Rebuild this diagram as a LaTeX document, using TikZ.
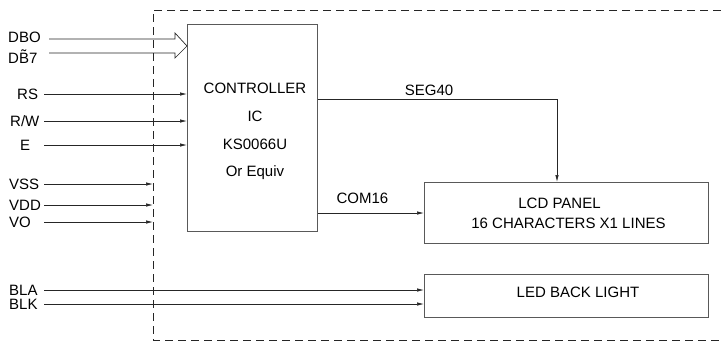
\documentclass[tikz,border=0pt]{standalone}
\usepackage{fontspec}
\setmainfont{Liberation Sans}
\usetikzlibrary{arrows.meta, positioning, calc}

\tikzset{
    sig/.style={draw=black!85, line width=0.7pt, -{Latex[length=7pt, width=3.5pt]}},
    blk/.style={draw=black!65, line width=1pt, inner sep=0pt},
    lbl/.style={inner sep=0pt, anchor=base west},
}

\begin{document}
\begin{tikzpicture}[x=1pt, y=-1pt, font=\fontsize{15}{18}\selectfont]
    \useasboundingbox (0,0) rectangle (721,343);
    % module border, open to the right
    \draw[black!85, line width=0.7pt, dash pattern=on 8pt off 5pt]
        (721,10) -- (153,10) -- (153,340) -- (721,340);
    \coordinate (edge) at (153,10);

    % blocks
    \node[blk, minimum width=130pt, minimum height=207pt, anchor=north west] (ctrl) at (187,24) {};
    \node[blk, minimum width=284pt, minimum height=61pt, anchor=north west] (lcd) at (424,182) {};
    \node[blk, minimum width=284pt, minimum height=43pt, anchor=north west] (led) at (424,274) {};

    \node[align=center, font=\fontsize{15}{27.7}\selectfont] (ctrltxt) at (255,131.5)
        {CONTROLLER\\IC\\KS0066U\\Or Equiv};
    \node (lcdA) at (559.5,203) {LCD PANEL};
    \node (lcdB) at (568.5,223) {16 CHARACTERS X1 LINES};
    \node (ledtxt) at (578,292) {LED BACK LIGHT};

    % data bus
    \node[lbl] (lDBO) at (8,42) {DBO};
    \node[lbl] (lDB7) at (8,63) {D\~{B}7};
    \coordinate (busA) at (49,39);
    \coordinate (busB) at (49,53);
    \draw[black!85, line width=0.7pt] (busA) -- (175,39) -- (175,33)
        -- ($(ctrl.north west)+(0,22)$) -- (175,58) -- (175,53) -- (busB);

    % control inputs
    \foreach \n/\t/\lx/\y in {RS/RS/17/94, RW/{R/W}/10/121, E/E/20/145}{
        \node[lbl] (l\n) at (\lx,\y+5) {\t};
        \coordinate (in\n) at (44,\y);
        \draw[sig] (in\n) -- (in\n -| ctrl.west);
    }

    % power inputs
    \foreach \n/\y in {VSS/184, VDD/205, VO/222}{
        \node[lbl] (l\n) at (9,\y+5) {\n};
        \coordinate (in\n) at (44,\y);
        \draw[sig] (in\n) -- (in\n -| edge);
    }

    % back light
    \foreach \n/\y in {BLA/290, BLK/304}{
        \node[lbl] (l\n) at (9,\y+5) {\n};
        \coordinate (in\n) at (44,\y);
        \draw[sig] (in\n) -- (in\n -| led.west);
    }

    % controller to panel
    \draw[sig] ($(ctrl.north east)+(0,75)$) -| ($(lcd.north west)+(133,0)$);
    \node (lseg) at (429,90) {SEG40};
    \draw[sig] (ctrl.east |- lcd.west) -- (lcd.west);
    \node (lcom) at (362.5,198) {COM16};
\end{tikzpicture}
\end{document}
